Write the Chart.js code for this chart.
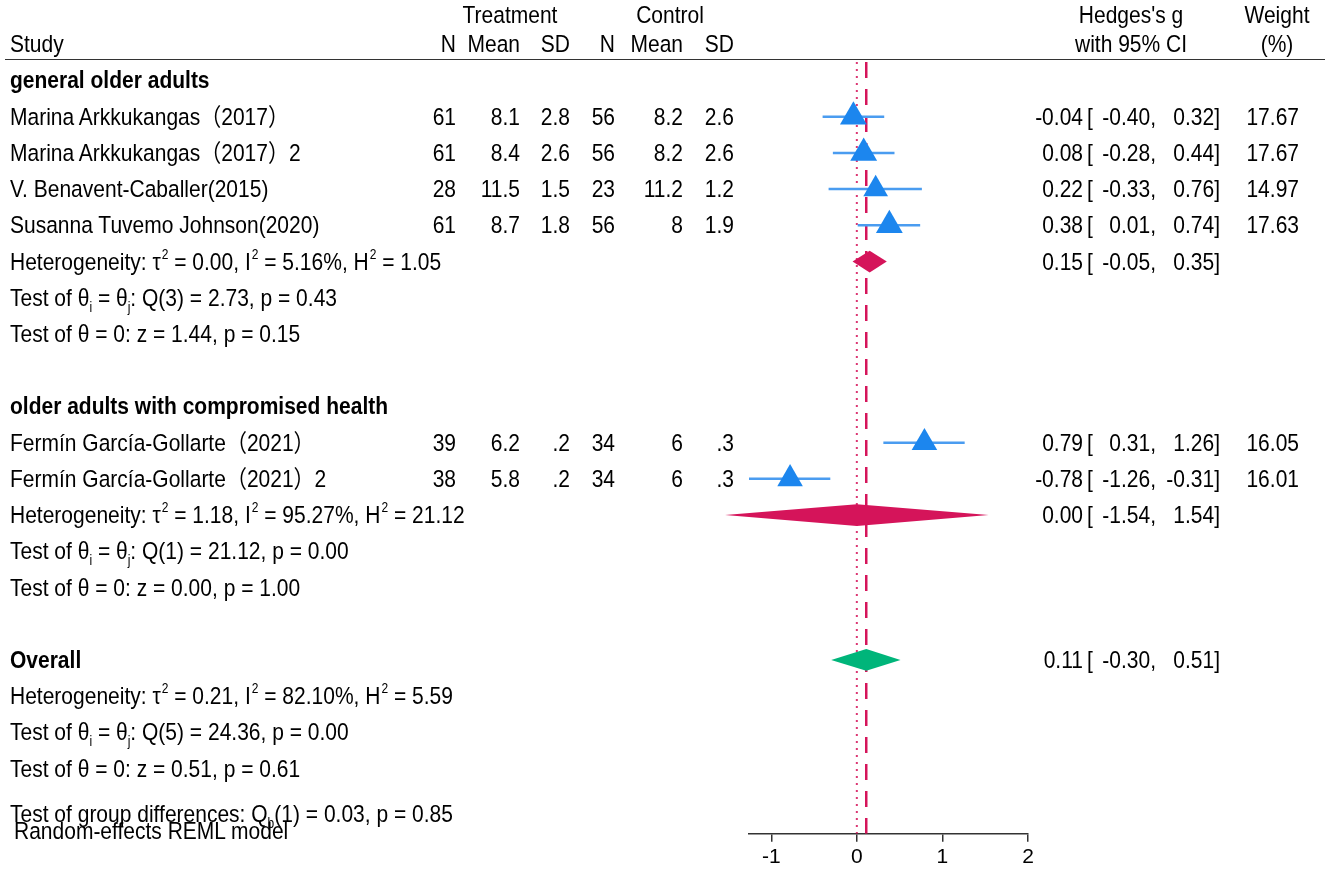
<!DOCTYPE html>
<html>
<head>
<meta charset="utf-8">
<script src="https://cdn.jsdelivr.net/npm/chart.js@4.4.0/dist/chart.umd.min.js"></script>
<style>
  html, body { margin: 0; padding: 0; background: #fff; }
  #wrap {
    position: relative; width: 1325px; height: 875px; overflow: hidden;
    font-family: "Liberation Sans", Arial, "Noto Sans CJK SC", sans-serif;
    font-size: 21px; color: #000;
  }
  #forest { position: absolute; left: 0; top: 0; }
  .t { position: absolute; white-space: nowrap; line-height: 24px; height: 24px;
       transform: scaleY(1.15); transform-origin: 50% 50%; }
  .b { font-weight: bold; }
  .sup { font-size: 12px; position: relative; top: -10px; margin-left: 1px; }
  .sub { font-size: 12px; position: relative; top: 5px; }
  #rule { position: absolute; left: 5px; right: 0; border-top: 1.5px solid #333; }
</style>
</head>
<body>
<div id="wrap">
  <canvas id="forest" width="1325" height="875"></canvas>
  <div id="rule"></div>
</div>
<script>
// studies (row = line in the table, 0 at the first subgroup title)
const studyNames = [
  'Marina Arkkukangas（2017）',
  'Marina Arkkukangas（2017）2',
  'V. Benavent-Caballer(2015)',
  'Susanna Tuvemo Johnson(2020)',
  'Fermín García-Gollarte（2021）',
  'Fermín García-Gollarte（2021）2'
];
const studyRows = [1, 2, 3, 4, 10, 11];
const treatN = ['61', '61', '28', '61', '39', '38'];
const treatMean = ['8.1', '8.4', '11.5', '8.7', '6.2', '5.8'];
const treatSD = ['2.8', '2.6', '1.5', '1.8', '.2', '.2'];
const ctrlN = ['56', '56', '23', '56', '34', '34'];
const ctrlMean = ['8.2', '8.2', '11.2', '8', '6', '6'];
const ctrlSD = ['2.6', '2.6', '1.2', '1.9', '.3', '.3'];
const hedgesG = [-0.04, 0.08, 0.22, 0.38, 0.79, -0.78];
const ciLow = [-0.40, -0.28, -0.33, 0.01, 0.31, -1.26];
const ciHigh = [0.32, 0.44, 0.76, 0.74, 1.26, -0.31];
const weights = [17.67, 17.67, 14.97, 17.63, 16.05, 16.01];

// subgroups + overall
const groupNames = ['general older adults', 'older adults with compromised health', 'Overall'];
const groupRows = [0, 9, 16];
const pooledRows = [5, 12, 16];
const pooledG = [0.15, 0.00, 0.11];
const pooledLow = [-0.05, -1.54, -0.30];
const pooledHigh = [0.35, 1.54, 0.51];
const statRows = [5, 12, 17];
const tau2 = ['0.00', '1.18', '0.21'];
const iSq = ['5.16%', '95.27%', '82.10%'];
const hSq = ['1.05', '21.12', '5.59'];
const qDf = ['3', '1', '5'];
const qStat = ['2.73', '21.12', '24.36'];
const qP = ['0.43', '0.00', '0.00'];
const zStat = ['1.44', '0.00', '0.51'];
const zP = ['0.15', '1.00', '0.61'];
const groupDiff = { q: '0.03', df: '1', p: '0.85' };

const xTicks = [-1, 0, 1, 2];

const FONT = '"Liberation Sans", Arial, sans-serif';
const BLUE = '#1c86ee';
const BLUE_CI = '#4a9cf0';
const RED = '#d5145a';
const GREEN = '#00b57a';
const diamondColors = [RED, RED, GREEN];

const yMin = -0.51, yMax = 20.8;
const overallG = pooledG[2];

// CI segments, broken with null points
const ciSegments = [];
hedgesG.forEach((g, i) => {
  ciSegments.push({ x: ciLow[i], y: studyRows[i] }, { x: ciHigh[i], y: studyRows[i] }, { x: null, y: null });
});

// pooled estimates as diamonds, drawn from the chart scales
const diamondPlugin = {
  id: 'pooledDiamonds',
  afterDatasetsDraw(chart) {
    const { ctx } = chart;
    const x = chart.scales.x, y = chart.scales.y;
    pooledG.forEach((g, i) => {
      const yc = y.getPixelForValue(pooledRows[i]);
      const hh = Math.abs(y.getPixelForValue(pooledRows[i] + 0.3) - yc);
      ctx.save();
      ctx.beginPath();
      ctx.moveTo(x.getPixelForValue(pooledLow[i]), yc);
      ctx.lineTo(x.getPixelForValue(g), yc - hh);
      ctx.lineTo(x.getPixelForValue(pooledHigh[i]), yc);
      ctx.lineTo(x.getPixelForValue(g), yc + hh);
      ctx.closePath();
      ctx.fillStyle = diamondColors[i];
      ctx.fill();
      ctx.restore();
    });
  }
};

const chart = new Chart(document.getElementById('forest'), {
  type: 'scatter',
  data: {
    datasets: [
      {
        label: 'no effect', type: 'line',
        data: [{ x: 0, y: yMin }, { x: 0, y: yMax }],
        borderColor: 'rgba(213,20,90,0.85)', borderWidth: 2, borderDash: [2, 5],
        pointRadius: 0, order: 4
      },
      {
        label: 'overall effect', type: 'line',
        data: [{ x: overallG, y: yMin }, { x: overallG, y: yMax }],
        borderColor: RED, borderWidth: 2.5, borderDash: [16, 11],
        pointRadius: 0, order: 3
      },
      {
        label: '95% CI', type: 'line',
        data: ciSegments,
        borderColor: BLUE_CI, borderWidth: 2.5, pointRadius: 0,
        spanGaps: false, clip: false, order: 2
      },
      {
        label: "Hedges's g",
        data: hedgesG.map((g, i) => ({ x: g, y: studyRows[i] })),
        pointStyle: 'triangle',
        pointRadius: weights.map(w => 15.5 * Math.sqrt(w / 17.67)),
        backgroundColor: BLUE, borderColor: BLUE, borderWidth: 0,
        clip: false, order: 1
      }
    ]
  },
  options: {
    responsive: false,
    animation: false,
    events: [],
    layout: { padding: { left: 749, right: 297, top: 62, bottom: 2 } },
    plugins: { legend: { display: false }, tooltip: { enabled: false } },
    scales: {
      x: {
        type: 'linear',
        min: Math.min(...ciLow),
        max: xTicks[xTicks.length - 1],
        afterBuildTicks: s => { s.ticks = xTicks.map(v => ({ value: v })); },
        grid: { drawOnChartArea: false, drawTicks: true, tickLength: 8, color: '#333', lineWidth: 1.5 },
        border: { display: true, color: '#333', width: 1.5 },
        ticks: { color: '#000', padding: 3, autoSkip: false, maxRotation: 0, font: { family: FONT, size: 21 } }
      },
      y: { type: 'linear', display: false, reverse: true, min: yMin, max: yMax }
    }
  },
  plugins: [diamondPlugin]
});

// table text as html, rows placed with the chart's y scale
const wrap = document.getElementById('wrap');
const yPix = r => chart.scales.y.getPixelForValue(r);
function put(html, x, row, align, cls) {
  const d = document.createElement('div');
  d.className = 't' + (cls ? ' ' + cls : '');
  d.innerHTML = html;
  d.style.top = (yPix(row) - 12) + 'px';
  if (align === 'r') d.style.right = (1325 - x) + 'px';
  else if (align === 'c') { d.style.left = (x - 150) + 'px'; d.style.width = '300px'; d.style.textAlign = 'center'; }
  else d.style.left = x + 'px';
  wrap.appendChild(d);
}
document.getElementById('rule').style.top = (yPix(-0.57) - 1) + 'px';

const colX = { name: 10, tN: 456, tMean: 520, tSD: 570, cN: 615, cMean: 683, cSD: 734,
  est: 1083, brk: 1087, lo: 1156, hi: 1220, w: 1299 };

// header
put('Treatment', 510, -1.8, 'c');
put('Control', 670, -1.8, 'c');
put("Hedges's g", 1131, -1.8, 'c');
put('Weight', 1277, -1.8, 'c');
put('Study', colX.name, -1, 'l');
put('N', colX.tN, -1, 'r');
put('Mean', colX.tMean, -1, 'r');
put('SD', colX.tSD, -1, 'r');
put('N', colX.cN, -1, 'r');
put('Mean', colX.cMean, -1, 'r');
put('SD', colX.cSD, -1, 'r');
put('with 95% CI', 1131, -1, 'c');
put('(%)', 1277, -1, 'c');

function effect(g, lo, hi, row) {
  put(g.toFixed(2), colX.est, row, 'r');
  put('[', colX.brk, row, 'l');
  put(lo.toFixed(2) + ',', colX.lo, row, 'r');
  put(hi.toFixed(2) + ']', colX.hi, row, 'r');
}

groupNames.forEach((n, i) => put(n, colX.name, groupRows[i], 'l', 'b'));

studyNames.forEach((n, i) => {
  const r = studyRows[i];
  put(n, colX.name, r, 'l');
  put(treatN[i], colX.tN, r, 'r');
  put(treatMean[i], colX.tMean, r, 'r');
  put(treatSD[i], colX.tSD, r, 'r');
  put(ctrlN[i], colX.cN, r, 'r');
  put(ctrlMean[i], colX.cMean, r, 'r');
  put(ctrlSD[i], colX.cSD, r, 'r');
  effect(hedgesG[i], ciLow[i], ciHigh[i], r);
  put(weights[i].toFixed(2), colX.w, r, 'r');
});

pooledG.forEach((g, i) => {
  effect(g, pooledLow[i], pooledHigh[i], pooledRows[i]);
  const r = statRows[i];
  put('Heterogeneity: τ<span class="sup">2</span> = ' + tau2[i] + ', I<span class="sup">2</span> = ' + iSq[i] +
      ', H<span class="sup">2</span> = ' + hSq[i], colX.name, r, 'l');
  put('Test of θ<span class="sub">i</span> = θ<span class="sub">j</span>: Q(' + qDf[i] + ') = ' + qStat[i] +
      ', p = ' + qP[i], colX.name, r + 1, 'l');
  put('Test of θ = 0: z = ' + zStat[i] + ', p = ' + zP[i], colX.name, r + 2, 'l');
});

put('Test of group differences: Q<span class="sub">b</span>(' + groupDiff.df + ') = ' + groupDiff.q +
    ', p = ' + groupDiff.p, colX.name, 20.25, 'l');
put('Random-effects REML model', 14, 20.72, 'l');
</script>
</body>
</html>
